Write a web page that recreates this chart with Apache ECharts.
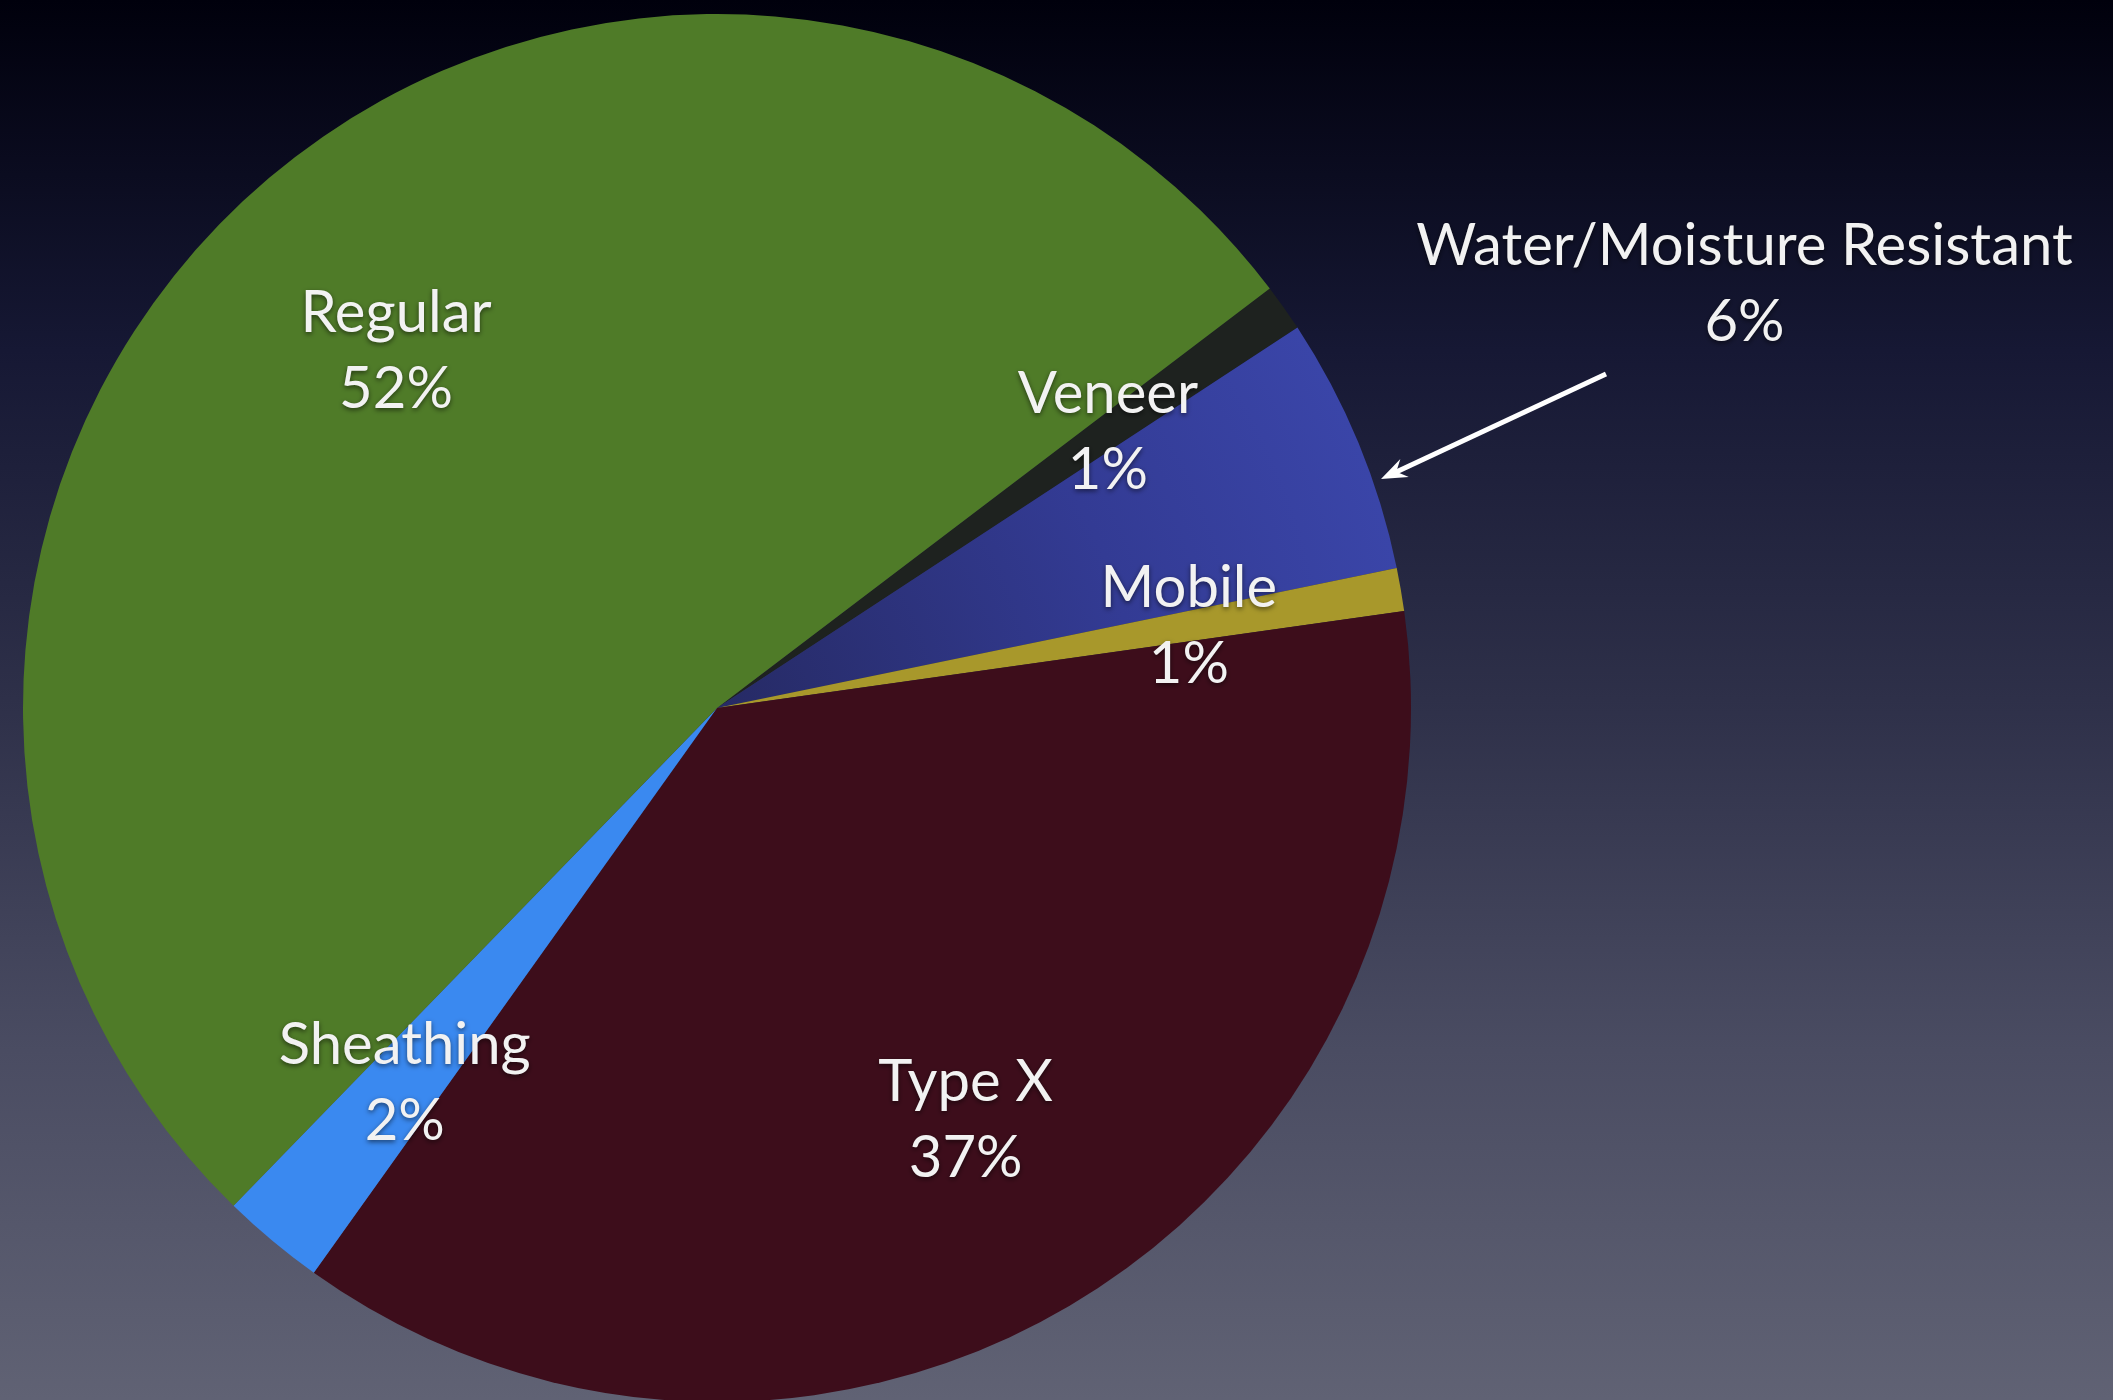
<!DOCTYPE html>
<html>
<head>
<meta charset="utf-8">
<script src="https://cdn.jsdelivr.net/npm/echarts@6/dist/echarts.min.js"></script>
<style>
html,body{margin:0;padding:0;width:100%;height:100%;overflow:hidden;background:#000;}
#chart{width:2113px;height:1400px;}
</style>
</head>
<body>
<div id="chart"></div>
<script>
// ---- data ----
const categories = ['Veneer', 'Water/Moisture Resistant', 'Mobile', 'Type X', 'Sheathing', 'Regular'];
const shares = [1.1, 6.0, 1.0, 37.1, 2.4, 52.4];

// ---- styles / layout (not data) ----
const sliceColors = ['#1e221f', null, '#a8982b', '#3d0d1b', '#3a89f0', '#4f7b28'];
const labelOffsets = [[105, -74], [704, -290], [127, -22], [67, 113], [-88, 107], [-89, -95]];
const CX = 717, CY = 708, R = 694;

const waterGradient = new echarts.graphic.RadialGradient(CX, CY, R, [
  { offset: 0, color: '#262a64' },
  { offset: 0.6, color: '#333b94' },
  { offset: 1, color: '#3a45a8' }
], true);

const pieData = categories.map((name, i) => ({
  name: name,
  value: shares[i],
  itemStyle: { color: i === 1 ? waterGradient : sliceColors[i] },
  label: { offset: labelOffsets[i] }
}));

const chart = echarts.init(document.getElementById('chart'), null, { renderer: 'canvas' });

// arrow from the Water label to its slice
const tail = [1606, 374], tip = [1381, 479];
const ang = Math.atan2(tip[1] - tail[1], tip[0] - tail[0]);
const headLen = 26, headW = 10;
const bx = tip[0] - headLen * Math.cos(ang), by = tip[1] - headLen * Math.sin(ang);
const px = -Math.sin(ang), py = Math.cos(ang);

chart.setOption({
  backgroundColor: new echarts.graphic.LinearGradient(0, 0, 0, 1, [
    { offset: 0, color: '#00000c' },
    { offset: 0.25, color: '#161834' },
    { offset: 0.5, color: '#2e3049' },
    { offset: 0.75, color: '#4a4c62' },
    { offset: 1, color: '#606274' }
  ]),
  animation: false,
  series: [{
    type: 'pie',
    center: [CX, CY],
    radius: [0, R],
    startAngle: 37.2,
    clockwise: true,
    avoidLabelOverlap: false,
    silent: true,
    itemStyle: { borderWidth: 0 },
    label: {
      show: true,
      position: 'inside',
      formatter: p => p.name + '\n' + Math.round(p.percent) + '%',
      color: '#f2f2f2',
      fontFamily: 'Lato, "Open Sans", sans-serif',
      fontSize: 58,
      lineHeight: 76,
      align: 'center',
      textShadowColor: 'rgba(0,0,0,0.55)',
      textShadowBlur: 5,
      textShadowOffsetY: 2
    },
    labelLine: { show: false },
    data: pieData
  }],
  graphic: [
    {
      type: 'line',
      shape: { x1: tail[0], y1: tail[1], x2: bx + 0.4 * headLen * Math.cos(ang), y2: by + 0.4 * headLen * Math.sin(ang) },
      style: { stroke: '#ffffff', lineWidth: 5 }
    },
    {
      type: 'polygon',
      shape: { points: [tip, [bx + px * headW, by + py * headW], [bx + 0.35 * headLen * Math.cos(ang), by + 0.35 * headLen * Math.sin(ang)], [bx - px * headW, by - py * headW]] },
      style: { fill: '#ffffff' }
    }
  ]
});
</script>
</body>
</html>
